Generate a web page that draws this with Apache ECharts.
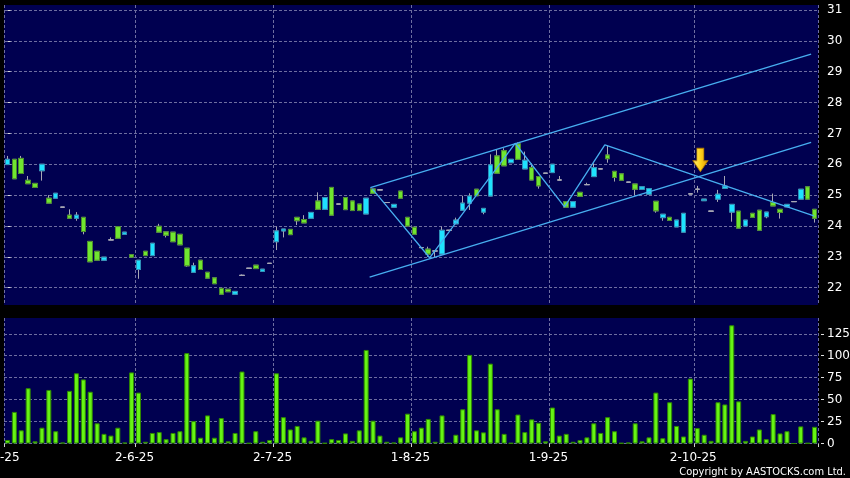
<!DOCTYPE html>
<html>
<head>
<meta charset="utf-8">
<script src="https://cdn.jsdelivr.net/npm/echarts@6/dist/echarts.min.js"></script>
<style>
html,body{margin:0;padding:0;background:#000;}
#c{width:850px;height:478px;}
</style>
</head>
<body>
<div id="c"></div>
<script>
// ---- data ----
// OHLC per trading day: [open, close, low, high]
const ohlc = [
[25.99,26.16,25.99,26.27],[26.16,25.53,25.53,26.16],[26.19,25.70,25.70,26.27],[25.48,25.37,25.37,25.62],
[25.38,25.25,25.25,25.38],[25.79,26.00,25.47,26.00],[24.90,24.74,24.74,25.00],[24.90,25.06,24.90,25.06],
[24.61,24.61,24.61,24.61],[24.35,24.25,24.25,24.54],[24.25,24.35,24.17,24.45],[24.28,23.82,23.73,24.28],
[23.50,22.84,22.84,23.50],[23.18,22.89,22.89,23.18],[22.89,22.99,22.89,22.99],[23.55,23.55,23.55,23.63],
[23.98,23.60,23.60,23.98],[23.73,23.80,23.73,23.80],[23.07,22.99,22.99,23.07],[22.59,22.89,22.29,22.89],
[23.18,23.04,23.04,23.18],[23.04,23.44,23.04,23.44],[23.99,23.80,23.80,24.07],[23.81,23.70,23.63,23.81],
[23.80,23.49,23.49,23.80],[23.73,23.39,23.39,23.73],[23.28,22.71,22.68,23.28],[22.50,22.71,22.50,22.81],
[22.89,22.59,22.59,22.89],[22.50,22.31,22.31,22.50],[22.32,22.13,22.13,22.32],[21.98,21.79,21.79,21.98],
[21.95,21.87,21.87,21.95],[21.79,21.88,21.79,21.88],[22.40,22.40,22.40,22.43],[22.63,22.63,22.63,22.63],
[22.73,22.62,22.62,22.73],[22.53,22.60,22.53,22.60],[22.79,22.79,22.79,22.79],[23.49,23.84,23.22,23.98],
[23.84,23.90,23.63,23.90],[23.89,23.72,23.72,23.89],[24.28,24.17,24.03,24.28],[24.21,24.10,24.10,24.35],
[24.25,24.44,24.25,24.44],[24.81,24.54,24.54,25.09],[24.54,24.92,24.54,24.92],[25.25,24.35,24.35,25.25],
[24.71,24.71,24.71,24.71],[24.92,24.53,24.53,24.92],[24.81,24.50,24.50,24.81],[24.71,24.50,24.50,24.71],
[24.39,24.90,24.39,24.90],[25.20,25.06,25.06,25.20],[25.17,25.17,25.17,25.17],[24.76,24.76,24.76,24.76],
[24.61,24.70,24.61,24.70],[25.13,24.90,24.90,25.13],[24.28,24.00,24.00,24.28],[23.96,23.73,23.73,23.96],
[23.30,23.30,23.30,23.30],[23.25,23.09,23.00,23.33],[23.19,23.19,22.99,23.19],[23.09,23.86,23.09,23.98],
[23.86,23.86,23.86,23.86],[24.07,24.19,24.07,24.27],[24.51,24.74,24.51,24.98],[24.74,24.97,24.52,25.06],
[25.19,24.98,24.98,25.19],[24.45,24.57,24.38,24.57],[24.97,25.98,24.97,26.32],[26.27,25.71,25.71,26.49],
[26.44,25.95,25.95,26.52],[26.05,26.16,26.05,26.16],[26.66,26.16,26.16,26.71],[25.85,26.13,25.85,26.41],
[25.89,25.49,25.49,26.03],[25.60,25.30,25.21,25.60],[25.71,25.71,25.71,25.71],[25.73,26.00,25.73,26.00],
[25.49,25.49,25.49,25.62],[24.79,24.61,24.61,24.79],[24.61,24.79,24.61,24.79],[25.09,24.96,24.96,25.09],
[25.34,25.34,25.34,25.40],[25.60,25.89,25.60,26.03],[25.85,25.85,25.85,25.85],[26.30,26.18,26.05,26.61],
[25.77,25.57,25.44,25.77],[25.69,25.48,25.48,25.69],[25.42,25.42,25.42,25.42],[25.36,25.19,25.00,25.36],
[25.19,25.27,25.19,25.27],[25.03,25.21,25.03,25.21],[24.80,24.49,24.43,24.80],[24.27,24.38,24.17,24.38],
[24.28,24.18,24.18,24.28],[23.97,24.19,23.97,24.19],[23.80,24.41,23.80,24.41],[25.04,25.04,25.04,25.04],
[25.19,25.19,25.08,25.30],[24.82,24.87,24.82,24.87],[24.48,24.48,24.48,24.48],[24.87,25.03,24.78,25.17],
[25.22,25.29,25.22,25.62],[24.45,24.70,24.14,24.70],[24.48,23.93,23.93,24.48],[24.00,24.19,24.00,24.19],
[24.41,24.28,24.28,24.41],[24.51,23.86,23.86,24.51],[24.30,24.45,24.25,24.45],[24.76,24.65,24.65,25.05],
[24.54,24.44,24.24,24.54],[24.62,24.70,24.62,24.70],[24.79,24.79,24.79,24.79],[24.87,25.19,24.87,25.19],
[25.27,24.87,24.87,25.27],[24.54,24.25,24.11,24.54]
];

// Volume per trading day
const volume = [
4,36,15,63,2.5,18,61,14,1,60,
80,73,59,23,11,9,18,1,81,58,
2,12,13,5,12,14,103,25.5,6.6,32,
6.6,29,2.5,12,82,0.5,14,2,4,80,
30,16,20,7,3,26,0.5,5,4,11.5,
3,15,106.6,26,9,2,1,7,34,14,
18,28,2,32,0.5,10,39,101,15,12.7,
91,39,11,0.5,33,13,27.5,23.6,2.5,41,
9,11,2,4,7,23,12,30,14,0.5,
1,23,2.5,7,58,6,47,20,8,74,
17.6,10,3,47,44.5,134.7,48,3,8,16,
5,33.5,11.5,14,0,19.5,0.5,19
];

// Trading-day categories (index of each session)
const categories = ohlc.map((d, i) => String(i));

// Month tick labels and the session index where each month starts
const tickIndex = [0, 19, 39, 59, 79, 100];
const tickLabels = ['2-5-25', '2-6-25', '2-7-25', '1-8-25', '1-9-25', '2-10-25'];

// Right-hand axis tick labels
const priceTicks = [22, 23, 24, 25, 26, 27, 28, 29, 30, 31];
const volumeTicks = [0, 25, 50, 75, 100, 125];

// Drawn trend lines: [session index, price]
const upperChannel = [[52.6, 25.24], [116.5, 29.57]];
const lowerChannel = [[52.5, 22.34], [116.5, 26.71]];
const zigzag = [[52.9, 25.20], [61.2, 22.97], [73.6, 26.68], [80.75, 24.62], [86.6, 26.63], [116.9, 24.33]];
const arrowPoint = [100.45, 26.14];

// ---- chart ----
const bodies = ohlc.map(d => [d[0], d[1], Math.min(d[0], d[1]), Math.max(d[0], d[1])]);
const FONT = 'DejaVu Sans';
const NAVY = '#000050';
const GRID_LINE = { color: '#6e6ea0', width: 1, type: [3, 2] };
const WICK = '#a8a8b4';
const CYAN = '#1ee2ff', CYAN_B = '#2b8fb8';
const GREEN = '#70e630', GREEN_B = '#4a8c2a';
const LINE_C = '#47aef0';
const isTick = (i) => tickIndex.indexOf(Number(i)) >= 0;

const chart = echarts.init(document.getElementById('c'), null, { renderer: 'canvas' });
chart.setOption({
  animation: false,
  backgroundColor: '#000000',
  grid: [
    { left: 4, top: 5, width: 814, height: 300, show: true, backgroundColor: NAVY, borderWidth: 0, containLabel: false, outerBoundsMode: 'none' },
    { left: 4, top: 318, width: 814, height: 125.5, show: true, backgroundColor: NAVY, borderWidth: 0, containLabel: false, outerBoundsMode: 'none' }
  ],
  xAxis: [
    {
      type: 'category', gridIndex: 0, data: categories, boundaryGap: true,
      axisLine: { show: false }, axisTick: { show: false }, axisLabel: { show: false },
      splitLine: { show: true, interval: (i) => isTick(i), lineStyle: GRID_LINE }
    },
    { type: 'value', gridIndex: 0, min: -0.5, max: 117.5, show: false },
    {
      type: 'category', gridIndex: 1, data: categories, boundaryGap: true, offset: 2.5,
      axisLine: { show: false },
      axisTick: { show: true, interval: (i) => isTick(i), length: 3.5, lineStyle: { color: '#cfcfcf' } },
      axisLabel: {
        interval: (i) => isTick(i), margin: 6, color: '#ffffff', fontFamily: FONT, fontSize: 12,
        formatter: function (value) {
          const k = tickIndex.indexOf(Number(value));
          if (k < 0) return '';
          return (k === 0 ? '{f|' : '{s|') + tickLabels[k] + '}';
        },
        rich: {
          f: { padding: [0, 15, 0, 0], color: '#ffffff', fontFamily: FONT, fontSize: 12 },
          s: { padding: [0, 8, 0, 0], color: '#ffffff', fontFamily: FONT, fontSize: 12 }
        }
      },
      splitLine: { show: true, interval: (i) => isTick(i), lineStyle: GRID_LINE }
    }
  ],
  yAxis: [
    {
      type: 'value', gridIndex: 0, position: 'right', min: 21.44, max: 31.16, offset: 3,
      axisLine: { show: false },
      axisTick: { show: true, length: 3, customValues: priceTicks, lineStyle: { color: '#dddddd' } },
      axisLabel: { customValues: priceTicks, margin: 6, color: '#ffffff', fontFamily: FONT, fontSize: 12 },
      splitLine: { show: true, lineStyle: GRID_LINE }
    },
    {
      type: 'value', gridIndex: 1, position: 'right', min: 0, max: 143, offset: 3,
      axisLine: { show: false },
      axisTick: { show: true, length: 3, customValues: volumeTicks, lineStyle: { color: '#dddddd' } },
      axisLabel: { customValues: volumeTicks, margin: 6, color: '#ffffff', fontFamily: FONT, fontSize: 12 },
      splitLine: { show: true, lineStyle: GRID_LINE }
    }
  ],
  series: [
    {
      type: 'candlestick', xAxisIndex: 0, yAxisIndex: 0, data: ohlc, barWidth: 5, silent: true,
      itemStyle: { color: 'transparent', color0: 'transparent', borderColor: WICK, borderColor0: WICK, borderColorDoji: WICK, borderWidth: 1 }
    },
    {
      type: 'candlestick', xAxisIndex: 0, yAxisIndex: 0, data: bodies, barWidth: 5, silent: true,
      itemStyle: { color: CYAN, color0: GREEN, borderColor: CYAN_B, borderColor0: GREEN_B, borderColorDoji: WICK, borderWidth: 1 }
    },
    { type: 'line', xAxisIndex: 1, yAxisIndex: 0, data: upperChannel, symbol: 'none', silent: true, lineStyle: { color: LINE_C, width: 1.3 } },
    { type: 'line', xAxisIndex: 1, yAxisIndex: 0, data: lowerChannel, symbol: 'none', silent: true, lineStyle: { color: LINE_C, width: 1.3 } },
    { type: 'line', xAxisIndex: 1, yAxisIndex: 0, data: zigzag, symbol: 'none', silent: true, lineStyle: { color: LINE_C, width: 1.3 } },
    {
      type: 'scatter', xAxisIndex: 1, yAxisIndex: 0, data: [arrowPoint], silent: true,
      symbol: 'path://M4,0 L11,0 L11,12.5 L15,12.5 L7.5,23.5 L0,12.5 L4,12.5 Z',
      symbolSize: [15, 23.5],
      itemStyle: {
        color: new echarts.graphic.LinearGradient(0, 0, 1, 0, [
          { offset: 0, color: '#fff27a' }, { offset: 0.5, color: '#ffd21a' }, { offset: 1, color: '#e09a00' }
        ]),
        borderColor: '#b07a00', borderWidth: 0.8, opacity: 1
      }
    },
    {
      type: 'bar', xAxisIndex: 2, yAxisIndex: 1, data: volume, barWidth: 5, silent: true,
      itemStyle: { color: '#66f414', borderColor: '#2f8a00', borderWidth: 1 }
    }
  ],
  graphic: [
    {
      type: 'text', right: 4, top: 467, silent: true,
      style: { text: 'Copyright by AASTOCKS.com Ltd.', fill: '#ffffff', font: '11px "DejaVu Sans Condensed", "DejaVu Sans"' }
    }
  ]
});
</script>
</body>
</html>
